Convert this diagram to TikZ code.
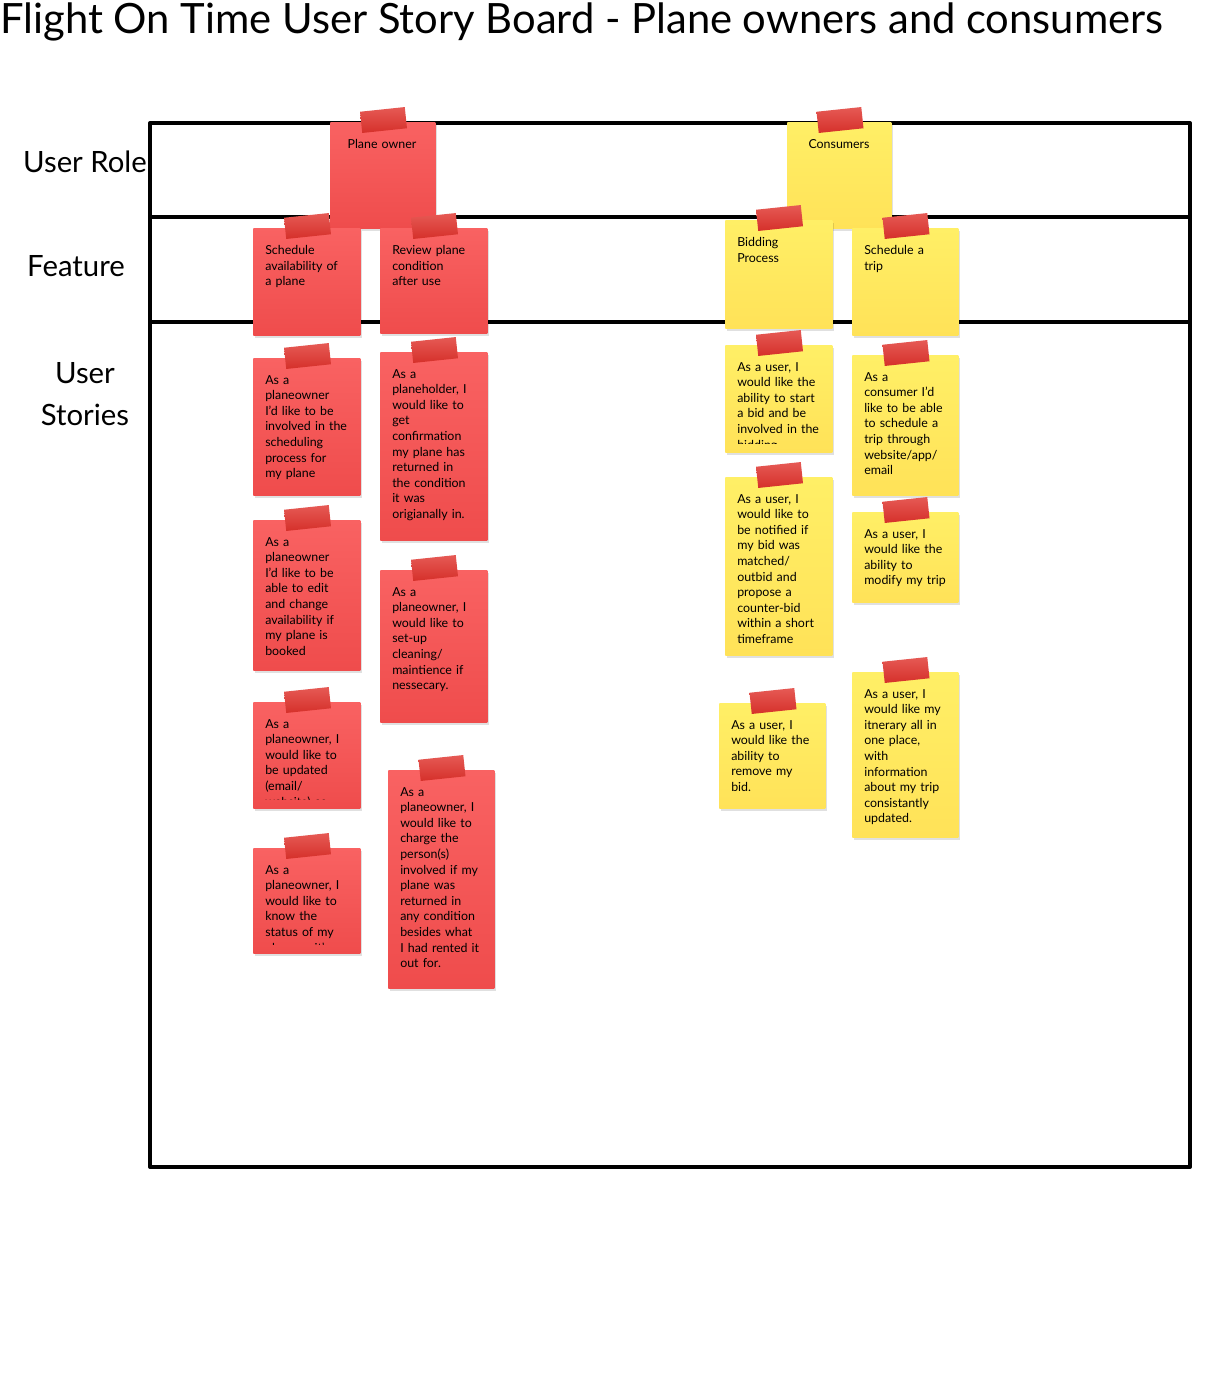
\documentclass[tikz,border=0pt]{standalone}
\usepackage{fontspec}
\setmainfont{Lato}
\definecolor{notered}{HTML}{EF4C4C}
\definecolor{noteredtop}{HTML}{F96262}
\definecolor{noteyel}{HTML}{FFE258}
\definecolor{noteyeltop}{HTML}{FFEF66}
\definecolor{tapered}{HTML}{D5302A}
\definecolor{tapetop}{HTML}{E65A55}
\tikzset{
  frame/.style={line width=3pt, line join=round},
  notered/.style={shade, top color=noteredtop, bottom color=notered, inner sep=0pt},
  noteyel/.style={shade, top color=noteyeltop, bottom color=noteyel, inner sep=0pt},
  notetext/.style={inner sep=0pt, align=left, font=\fontsize{9.3}{11.7}\selectfont},
  tape/.style={shade, top color=tapetop, bottom color=tapered, minimum width=33.75pt,
    minimum height=16pt, inner sep=0pt},
  rolelabel/.style={inner sep=0pt, align=center, font=\fontsize{22}{31.5}\selectfont},
}
% \sticky[text options]{name}{x}{top}{width}{height}{red|yel}{text}
\newcommand{\sticky}[8][]{%
  \pgfmathsetmacro\stw{(#5-16)*0.75}%
  \fill[black, opacity=0.12] (#3+2,#4+3) rectangle (#3+#5+2,#4+#6+3);
  \node[note#7, minimum width=#5*0.75pt, minimum height=#6*0.75pt, anchor=north west] (#2) at (#3,#4) {};
  \begin{scope}
    \clip (#3,#4) rectangle (#3+#5,#4+#6-9);
    \node[notetext, text width=\stw pt, anchor=north west, #1] (#2-text) at (#3+12,#4+17) {#8};
  \end{scope}
  \node[tape, rotate=6] (#2-tape) at (#3+#5/2+1,#4-2) {};
}
\begin{document}
\begin{tikzpicture}[x=0.75pt,y=-0.75pt]
\useasboundingbox[fill=white] (0,0) rectangle (1218,1396);

% title
\node[anchor=west, inner sep=0pt, font=\fontsize{31.3}{36}\selectfont] (title) at (0,22)
  {Flight On Time User Story Board - Plane owners and consumers};

% board with its three swimlanes
\draw[frame] (150,123) rectangle (1190,1167);
\draw[frame] (150,217) -- (1190,217);
\draw[frame] (150,322) -- (1190,322);

% lane labels
\node[rolelabel] (lab-role) at (85,162) {User Role};
\node[rolelabel] (lab-feature) at (76,266) {Feature};
\node[rolelabel] (lab-stories) at (85,394) {User\\Stories};

% user roles
\sticky[align=center, anchor=north, xshift=-12*0.75pt+52*0.75pt]{po}{330}{122}{105}{106}{red}{Plane owner}
\sticky[align=center, anchor=north, xshift=-12*0.75pt+52*0.75pt]{co}{787}{122}{104}{106}{yel}{Consumers}

% features
\sticky{sa}{253}{228}{107}{107}{red}{Schedule\\availability of\\a plane}
\sticky{rp}{380}{228}{107}{105}{red}{Review plane\\condition\\after use}
\sticky{bp}{725}{220}{107}{108}{yel}{Bidding\\Process}
\sticky{st}{852}{228}{106}{107}{yel}{Schedule a\\trip}

% plane owner stories
\sticky{r1}{253}{358}{107}{137}{red}{As a\\planeowner\\I'd like to be\\involved in the\\scheduling\\process for\\my plane}
\sticky{r2}{253}{520}{107}{150}{red}{As a\\planeowner\\I'd like to be\\able to edit\\and change\\availability if\\my plane is\\booked}
\sticky{r3}{253}{702}{107}{106}{red}{As a\\planeowner, I\\would like to\\be updated\\(email/\\website) as}
\sticky{r4}{253}{848}{107}{105}{red}{As a\\planeowner, I\\would like to\\know the\\status of my\\plane as it's}
\sticky{r5}{380}{352}{107}{188}{red}{As a\\planeholder, I\\would like to\\get\\confirmation\\my plane has\\returned in\\the condition\\it was\\origianally in.}
\sticky{r6}{380}{570}{107}{152}{red}{As a\\planeowner, I\\would like to\\set-up\\cleaning/\\maintience if\\nessecary.}
\sticky{r7}{388}{770}{106}{218}{red}{As a\\planeowner, I\\would like to\\charge the\\person(s)\\involved if my\\plane was\\returned in\\any condition\\besides what\\I had rented it\\out for.}

% consumer stories
\sticky{y1}{725}{345}{107}{107}{yel}{As a user, I\\would like the\\ability to start\\a bid and be\\involved in the\\bidding}
\sticky{y2}{725}{477}{107}{178}{yel}{As a user, I\\would like to\\be notified if\\my bid was\\matched/\\outbid and\\propose a\\counter-bid\\within a short\\timeframe}
\sticky{y3}{719}{703}{106}{105}{yel}{As a user, I\\would like the\\ability to\\remove my\\bid.}
\sticky{y4}{852}{355}{106}{140}{yel}{As a\\consumer I'd\\like to be able\\to schedule a\\trip through\\website/app/\\email}
\sticky{y5}{852}{512}{106}{90}{yel}{As a user, I\\would like the\\ability to\\modify my trip}
\sticky{y6}{852}{672}{106}{165}{yel}{As a user, I\\would like my\\itnerary all in\\one place,\\with\\information\\about my trip\\consistantly\\updated.}
\end{tikzpicture}
\end{document}
